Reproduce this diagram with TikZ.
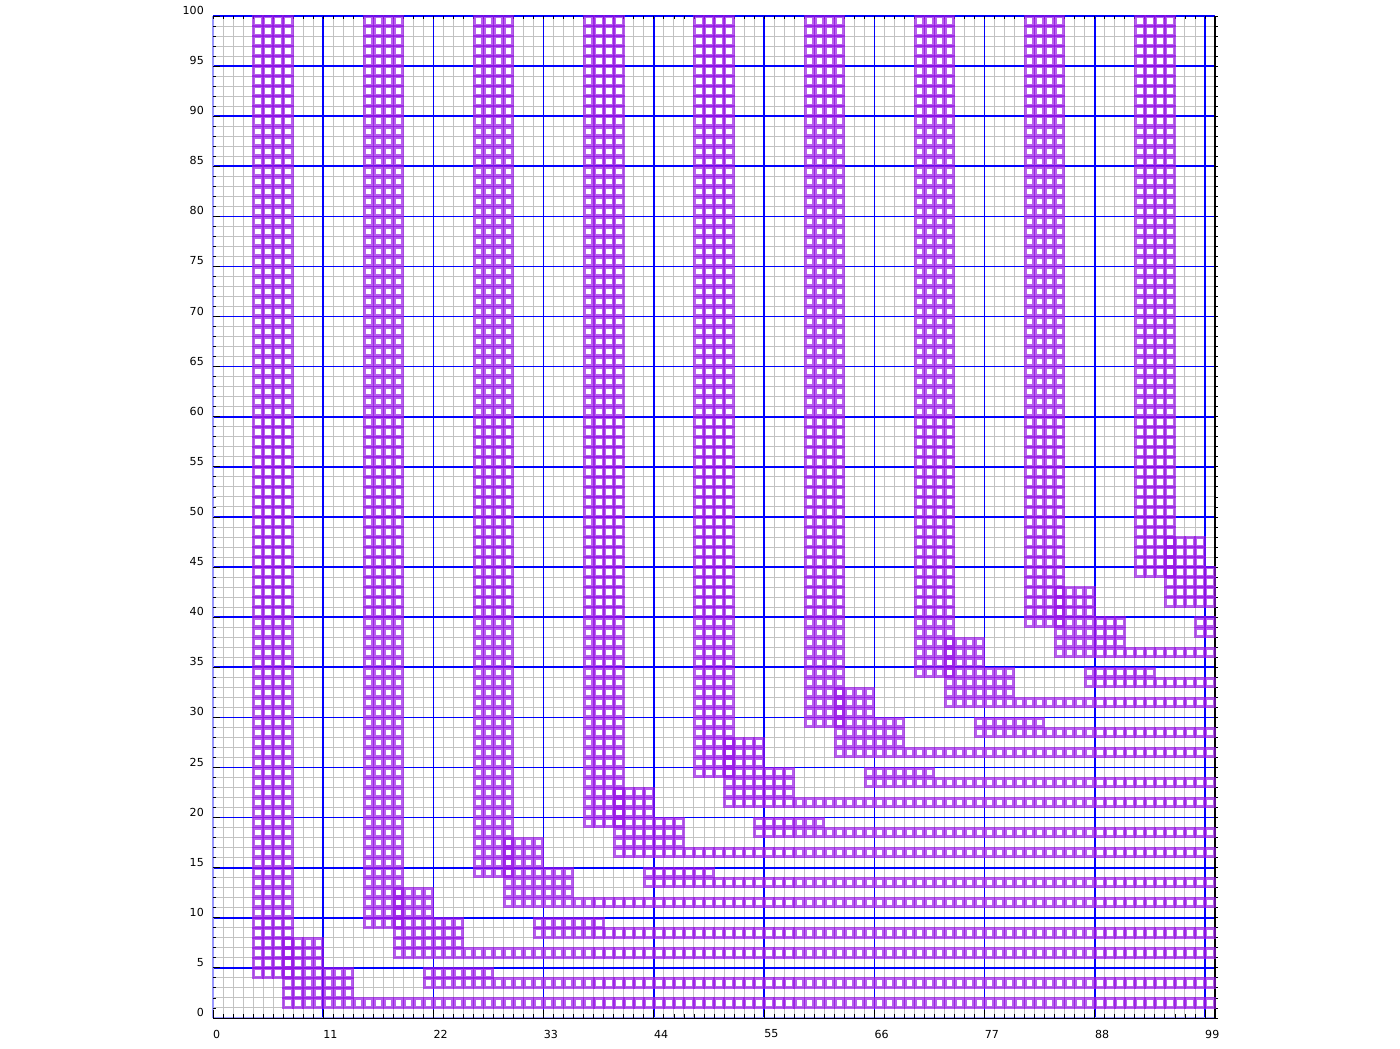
\documentclass[tikz,border=0pt]{standalone}
\usepackage{fontspec}
\setmainfont{DejaVu Sans}
\usepackage{tikz}
\definecolor{cellpurple}{RGB}{150,20,230}

% cols #1..#2, rows #3..#4 (clipped to the 100x100 field)
\newcommand{\cellblock}[4]{%
  \pgfmathtruncatemacro{\cbxa}{#1}%
  \pgfmathtruncatemacro{\cbxb}{min(#2,99)}%
  \pgfmathtruncatemacro{\cbya}{max(#3,0)}%
  \pgfmathtruncatemacro{\cbyb}{#4}%
  \ifnum\cbxa>\cbxb\relax\else\ifnum\cbya>\cbyb\relax\else
    \foreach \i in {\cbxa,...,\cbxb}
      \foreach \j in {\cbya,...,\cbyb}
        \draw[gridcell] (\i+0.08,\j+0.08) rectangle +(0.84,0.84);
  \fi\fi}

\begin{document}
\begin{tikzpicture}[
  x=0.35cm, y=0.35cm,
  minorline/.style={black!24, line width=1pt},
  majorline/.style={blue, line width=1.6pt},
  edgeline/.style={blue!40, line width=1.6pt},
  tickmark/.style={black, line width=0.9pt},
  gridcell/.style={draw=cellpurple, draw opacity=0.68, line width=3pt},
  axislab/.style={font=\fontsize{11}{13}\selectfont, inner sep=0pt},
]
  \useasboundingbox (-21.26,-2.994) rectangle (118.46,101.597);

  % Fine grid
  \foreach \v in {1,...,99} {
    \draw[minorline] (\v,0) -- (\v,100);
    \draw[minorline] (0,\v) -- (100,\v);
  }

  % Coarse grid
  \foreach \x in {11,22,...,99} \draw[majorline] (\x,0) -- (\x,100);
  \foreach \y in {5,10,...,100} \draw[majorline] (0,\y) -- (100,\y);
  \draw[edgeline] (0,0) -- (0,100);
  \draw[edgeline] (0,0) -- (100,0);

  % Ticks
  \foreach \v in {0,...,100} {
    \draw[tickmark] (0,\v) -- (0.3,\v);
    \draw[tickmark] (\v,0) -- (\v,0.4);
    \draw[tickmark] (100,\v) -- (100.25,\v);
    \draw[tickmark] (\v,100) -- (\v,99.7);
  }
  \foreach \v in {0,5,...,100} \draw[tickmark] (0,\v) -- (0.65,\v);
  \foreach \v in {0,11,...,99} \draw[tickmark] (\v,0) -- (\v,0.8);

  % Frame
  \draw[black, line width=1.2pt] (0,-0.05) -- (100,-0.05) -- (100,100);

  % Occupied cells: bar, steps, runs to the right edge
  \foreach \k in {0,...,8} {
    \pgfmathtruncatemacro{\colA}{4+11*\k}
    \pgfmathtruncatemacro{\rowB}{4+5*\k}
    % vertical bar
    \cellblock{\colA}{\colA+3}{\rowB}{99}
    % step blocks
    \cellblock{\colA+3}{\colA+6}{\rowB-3}{\rowB+3}
    \cellblock{\colA+7}{\colA+9}{\rowB-3}{\rowB}
    \cellblock{\colA+10}{99}{\rowB-3}{\rowB-3}
    % lower branch
    \cellblock{\colA+6}{\colA+12}{\rowB-6}{\rowB-5}
    \cellblock{\colA+13}{99}{\rowB-6}{\rowB-6}
  }

  % Axis labels
  \foreach \v in {0,5,...,100}
    \node[axislab, anchor=east] (ylab\v) at (-0.9,\v+0.55) {\v};
  \foreach \v in {0,11,...,99}
    \node[axislab, anchor=west] (xlab\v) at (\v,-1.6) {\v};
\end{tikzpicture}
\end{document}
